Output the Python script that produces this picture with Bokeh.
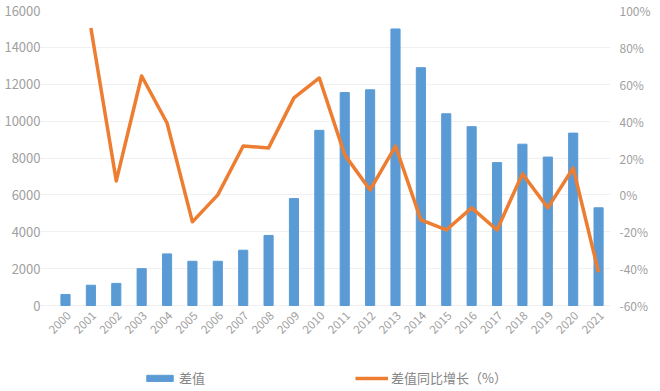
from bokeh.plotting import figure
from bokeh.models import Range1d, LinearAxis, FixedTicker, PrintfTickFormatter, Legend, LegendItem
from bokeh.core.properties import value
from bokeh.embed import file_html
from bokeh.resources import INLINE
import math

years = list(range(2000, 2022))
year_labels = [str(y) for y in years]
diff_values = [600, 1100, 1200, 2000, 2800, 2400, 2400, 3000, 3800, 5800, 9500,
               11550, 11700, 15000, 12900, 10400, 9700, 7750, 8750, 8050, 9350, 5300]
growth_years = years[1:]
growth_pct = [90.5, 7.6, 64.5, 39.0, -14.6, 0.0, 26.5, 25.5, 52.6, 63.4,
              21.7, 2.7, 26.5, -13.5, -19.0, -7.0, -19.0, 11.4, -7.0, 14.6, -42.0]
left_ticks = [0, 2000, 4000, 6000, 8000, 10000, 12000, 14000, 16000]
right_ticks = [-60, -40, -20, 0, 20, 40, 60, 80, 100]

BLUE = "#5B9BD5"
ORANGE = "#ED7D31"
GREY = "#a0a0a0"
FONT = "Noto Sans CJK SC"

# frame runs to the bottom of the page so the legend can sit inside it;
# the value axes keep 0 / -60% at the same place as in the reference
p = figure(width=660, height=391, frame_width=570, frame_height=381,
           x_range=Range1d(1999.015, 2021.47),
           y_range=Range1d(-4664, 16000), x_axis_location=None,
           output_backend="svg", toolbar_location=None,
           min_border_left=40, min_border_right=50, min_border_top=10, min_border_bottom=0)
p.extra_y_ranges = {"pct": Range1d(-106.6, 100)}
p.outline_line_color = None

bars = p.vbar(x=years, top=diff_values, width=0.36, color=BLUE)
line = p.line(x=growth_years, y=growth_pct, y_range_name="pct", line_color=ORANGE,
              line_width=3.5, line_join="round")

# year labels (rotated category labels)
p.text(x=years, y=[-420] * len(years), text=year_labels, angle=math.pi / 4,
       text_align="right", text_baseline="middle", x_offset=3,
       text_font=value(FONT), text_font_size="11.5px", text_color=GREY)

ra = LinearAxis(y_range_name="pct", ticker=FixedTicker(ticks=right_ticks),
                formatter=PrintfTickFormatter(format="%d%%"))
p.add_layout(ra, "right")

p.yaxis[0].ticker = FixedTicker(ticks=left_ticks)
for ax in [p.yaxis[0], ra]:
    ax.axis_line_color = None
    ax.major_tick_line_color = None
    ax.minor_tick_line_color = None
    ax.major_tick_out = 0
    ax.major_tick_in = 0
    ax.minor_tick_out = 0
    ax.minor_tick_in = 0
    ax.major_label_text_color = GREY
    ax.major_label_text_font = FONT
p.yaxis[0].major_label_text_font_size = "13px"
ra.major_label_text_font_size = "12px"
p.yaxis[0].major_label_standoff = 0
ra.major_label_standoff = 9

p.xgrid.grid_line_color = None
p.ygrid.grid_line_color = "#f0f0f0"

legend = Legend(items=[LegendItem(label="差值", renderers=[bars]),
                       LegendItem(label="差值同比增长（%）", renderers=[line])],
                orientation="horizontal", location=(103, 4), spacing=150,
                glyph_width=33, glyph_height=8, label_standoff=3,
                label_text_font=FONT, label_text_font_size="13px", label_text_color="#858585",
                border_line_color=None, background_fill_alpha=0, padding=2, margin=0)
p.add_layout(legend, "center")

open("out.html", "w").write(file_html(p, INLINE))
